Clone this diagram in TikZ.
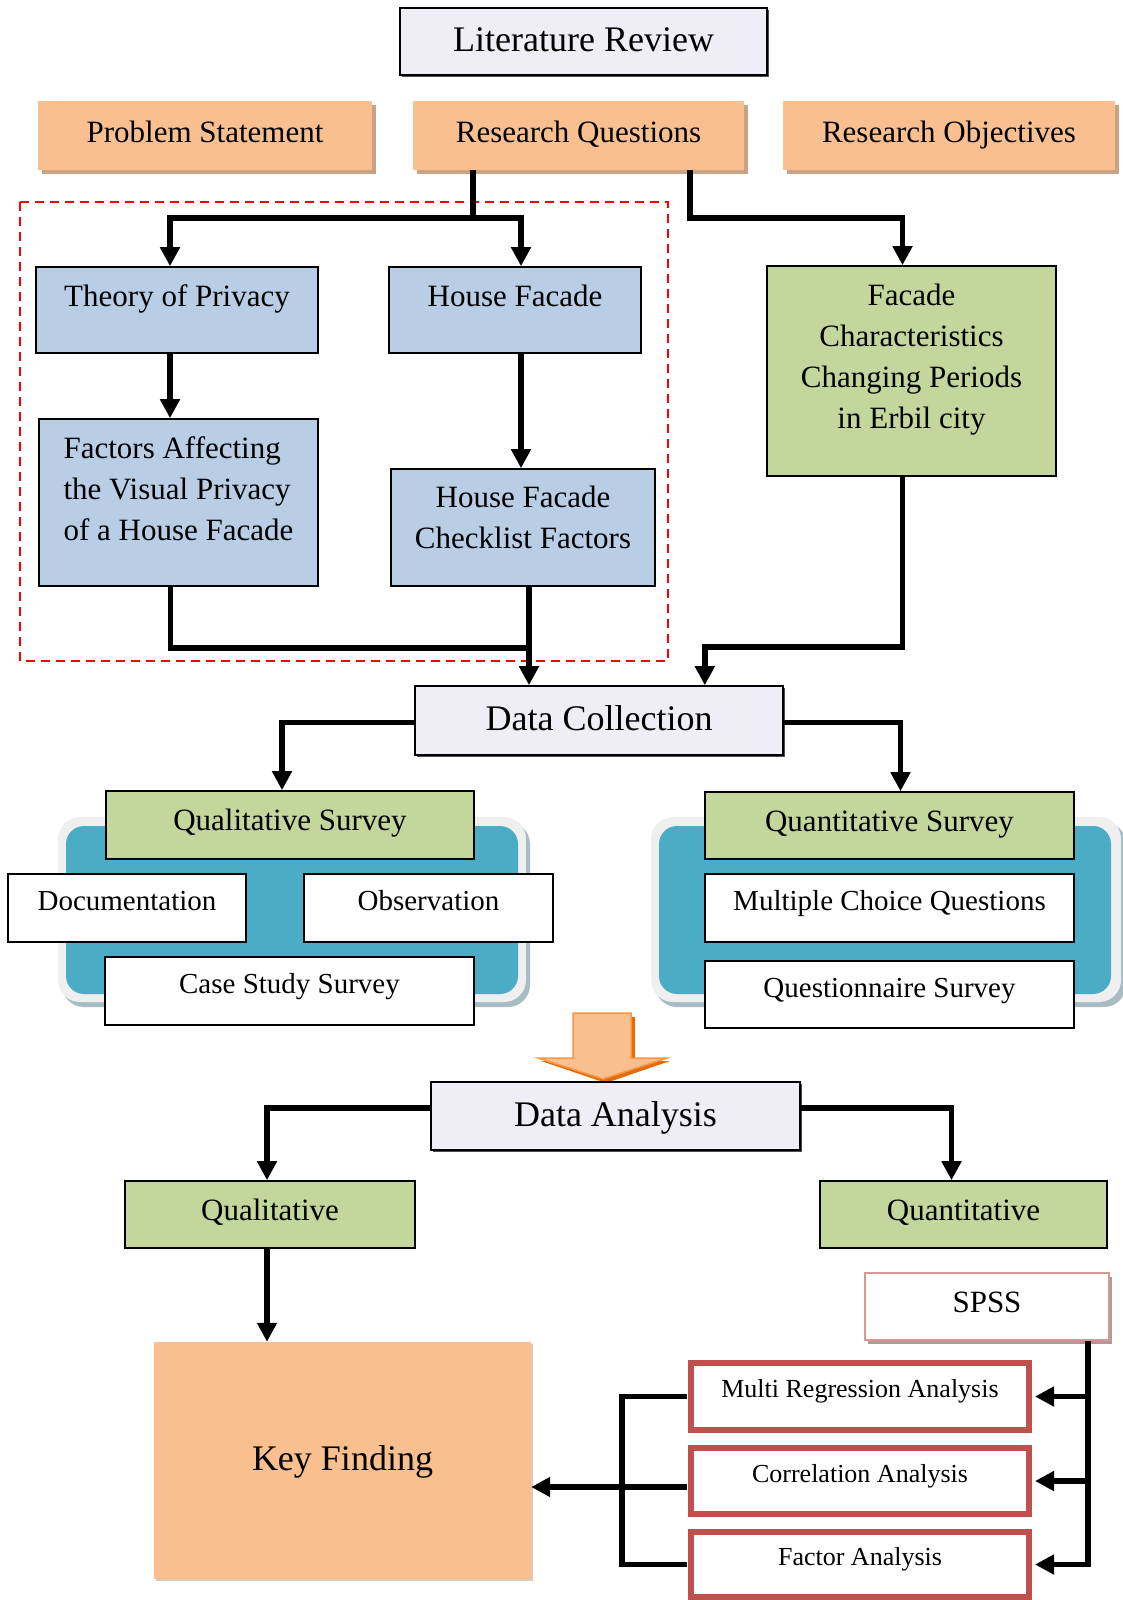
\documentclass[tikz,border=0pt]{standalone}
\usepackage{fontspec}
\setmainfont{Liberation Serif}
\usetikzlibrary{arrows.meta,shadows}
\definecolor{peach}{HTML}{F9BF8F}
\definecolor{peachsh}{HTML}{C9A385}
\definecolor{lav}{HTML}{EFEDF5}
\definecolor{lblue}{HTML}{B9CDE5}
\definecolor{lgreen}{HTML}{C3D69B}
\definecolor{teal}{HTML}{4BACC6}
\definecolor{rim}{HTML}{EFEFEF}
\definecolor{rimsh}{HTML}{A9BCC2}
\definecolor{redb}{HTML}{C0504D}
\definecolor{spssb}{HTML}{D99694}
\definecolor{spsssh}{HTML}{B59898}
\definecolor{orbord}{HTML}{F79646}
\definecolor{orsh}{HTML}{E46C0A}
\begin{document}
\begin{tikzpicture}[x=1pt,y=-1pt,
  base/.style={inner sep=0pt, font=\fontsize{31}{41}\selectfont, text height=22pt, text depth=11pt},
  box/.style={base, draw=black, line width=1.6pt},
  lavbox/.style={box, fill=lav, font=\fontsize{36}{44}\selectfont, text height=26pt, text depth=6pt,
     drop shadow={shadow xshift=2pt, shadow yshift=-2pt, fill=black!70, opacity=1}},
  peachbox/.style={base, fill=peach, minimum height=69pt, text height=22pt, text depth=8pt,
     drop shadow={shadow xshift=4pt, shadow yshift=-4pt, fill=peachsh, opacity=1}},
  bluebox/.style={box, fill=lblue},
  greenbox/.style={box, fill=lgreen},
  whitebox/.style={box, fill=white, font=\fontsize{29}{38}\selectfont, text height=20pt, text depth=15pt, minimum height=68pt},
  redbox/.style={base, draw=redb, line width=6pt, fill=white, font=\fontsize{26}{32}\selectfont, text height=18pt, text depth=16pt, minimum width=338pt},
  line/.style={line width=5.5pt},
  conn/.style={line width=5.5pt, -{Triangle[length=19pt,width=19pt]}}
]
\useasboundingbox (0,0) rectangle (1123,1600);

% top row
\node[lavbox, minimum width=367pt, minimum height=67pt] (lr) at (583.5,41.5) {Literature Review};
\node[peachbox, minimum width=334pt] (ps) at (205,135.5) {Problem Statement};
\node[peachbox, minimum width=331pt] (rq) at (578.5,135.5) {Research Questions};
\node[peachbox, minimum width=332pt] (ro) at (949,135.5) {Research Objectives};

% dashed frame
\draw[red, line width=2.2pt, dash pattern=on 9pt off 6pt] (20,202) rectangle (668,661);

% blue and green boxes
\node[bluebox, minimum width=282pt, minimum height=86pt, text depth=30pt] (tp) at (177,310) {Theory of Privacy};
\node[bluebox, minimum width=252pt, minimum height=86pt, text depth=30pt] (hf) at (515,310) {House Facade};
\node[bluebox, minimum width=279pt, minimum height=167pt, text height=, text depth=] (fa) at (178.5,502.5)
  {\raisebox{5pt}[0pt][0pt]{\begin{tabular}{@{}l@{}}Factors Affecting\\the Visual Privacy\\of a House Facade\end{tabular}}};
\node[bluebox, minimum width=264pt, minimum height=117pt, text height=, text depth=] (hc) at (523,527.5)
  {\raisebox{1pt}[0pt][0pt]{\begin{tabular}{@{}c@{}}House Facade\\Checklist Factors\end{tabular}}};
\node[greenbox, minimum width=289pt, minimum height=210pt, text height=, text depth=] (fc) at (911.5,371)
  {\raisebox{6pt}[0pt][0pt]{\begin{tabular}{@{}c@{}}Facade\\Characteristics\\Changing Periods\\in Erbil city\end{tabular}}};

% connectors of the upper part
\draw[conn] ([xshift=60pt]rq.south west) -- ++(0,48) -| ([xshift=-7pt]tp.north);
\draw[conn] ([xshift=60pt]rq.south west) ++(0,48) -| ([xshift=6pt]hf.north);
\draw[conn] ([xshift=-54pt]rq.south east) -- ++(0,48) -| ([xshift=-9pt]fc.north);
\draw[conn] ([xshift=-7pt]tp.south) -- ([xshift=-7pt]tp.south |- fa.north);
\draw[conn] ([xshift=6pt]hf.south) -- ([xshift=6pt]hf.south |- hc.north);

% data collection
\node[lavbox, minimum width=368pt, minimum height=69pt] (dc) at (599,720.5) {Data Collection};
\draw[line] ([xshift=-8pt]fa.south) |- ([xshift=6pt,yshift=-61pt]hc.south);
\draw[conn] ([xshift=6pt]hc.south) -- ([xshift=6pt]hc.south |- dc.north);
\draw[conn] ([xshift=-9pt]fc.south) -- ++(0,170) -| ([xshift=-79pt]dc.north east);

% survey backgrounds
\fill[rimsh, rounded corners=22pt] (62,822) rectangle (530,1007);
\fill[rim, rounded corners=22pt] (58,817) rectangle (526,1002);
\fill[teal, rounded corners=18pt] (66,826) rectangle (518,994);
\fill[rimsh, rounded corners=22pt] (655,822) rectangle (1126,1007);
\fill[rim, rounded corners=22pt] (651,817) rectangle (1121,1002);
\fill[teal, rounded corners=18pt] (659,826) rectangle (1111,994);

\node[greenbox, minimum width=368pt, minimum height=68pt] (qs) at (290,825) {Qualitative Survey};
\node[whitebox, minimum width=238pt] (doc) at (127,908) {Documentation};
\node[whitebox, minimum width=249pt] (obs) at (428.5,908) {Observation};
\node[whitebox, minimum width=369pt] (css) at (289.5,991) {Case Study Survey};
\node[greenbox, minimum width=369pt, minimum height=67pt] (qn) at (889.5,825.5) {Quantitative Survey};
\node[whitebox, minimum width=369pt] (mcq) at (889.5,908) {Multiple Choice Questions};
\node[whitebox, minimum width=369pt, minimum height=67pt] (qq) at (889.5,994.5) {Questionnaire Survey};

\draw[conn] ([yshift=-2pt]dc.west) -| ([xshift=-8pt]qs.north);
\draw[conn] ([yshift=-2pt]dc.east) -| ([xshift=11pt]qn.north);

% orange block arrow
\fill[orsh] (577,1017) -- (635,1017) -- (635,1061) -- (670,1061) -- (606,1083) -- (541,1061) -- (577,1061) -- cycle;
\filldraw[fill=peach, draw=orbord, line width=1.5pt, line join=miter] (573,1013) -- (631,1013) -- (631,1058) -- (667,1058) -- (603,1079) -- (538,1058) -- (573,1058) -- cycle;

% data analysis
\node[lavbox, minimum width=369pt, minimum height=68pt] (da) at (615.5,1116) {Data Analysis};
\node[greenbox, minimum width=290pt, minimum height=67pt] (ql) at (270,1214.5) {Qualitative};
\node[greenbox, minimum width=287pt, minimum height=67pt] (qt) at (963.5,1214.5) {Quantitative};
\draw[conn] ([yshift=8pt]da.west) -| ([xshift=-3pt]ql.north);
\draw[conn] ([yshift=8pt]da.east) -| ([xshift=-12pt]qt.north);

% key finding
\node[base, fill=peach, minimum width=377pt, minimum height=237pt, font=\fontsize{36}{44}\selectfont, text height=26pt, text depth=6pt,
  drop shadow={shadow xshift=2pt, shadow yshift=-2pt, fill=peachsh!60, opacity=1}] (kf) at (342.5,1460.5) {Key Finding};
\draw[conn] ([xshift=-3pt]ql.south) -- ([xshift=-3pt]ql.south |- kf.north);

% SPSS and analyses
\node[base, draw=spssb, line width=2pt, fill=white, minimum width=244pt, minimum height=67pt,
  drop shadow={shadow xshift=3pt, shadow yshift=-4pt, fill=spsssh, opacity=1}] (spss) at (987,1306.5) {SPSS};
\node[redbox, minimum height=67pt] (mr) at (860,1396.5) {Multi Regression Analysis};
\node[redbox, minimum height=66pt] (ca) at (860,1481) {Correlation Analysis};
\node[redbox, minimum height=65pt] (fan) at (860,1564.5) {Factor Analysis};

\draw[line] ([xshift=-22pt]spss.south east) -- ([xshift=-22pt,yshift=-2pt]spss.south east |- fan.east);
\draw[conn] ([xshift=-22pt]spss.south east |- mr.east) -- ([xshift=3pt]mr.east);
\draw[conn] ([xshift=-22pt]spss.south east |- ca.east) -- ([xshift=3pt]ca.east);
\draw[conn] ([xshift=-22pt]spss.south east |- fan.east) -- ([xshift=3pt]fan.east);

\draw[line] ([xshift=-1pt]mr.west) -| ([xshift=-66pt]fan.west) -- ([xshift=-1pt]fan.west);
\draw[line] ([xshift=-1pt,yshift=-6pt]ca.west) -- ([xshift=-66pt,yshift=-6pt]ca.west);
\draw[conn] ([xshift=-66pt,yshift=-6pt]ca.west) -- ([yshift=-6pt]ca.west -| kf.east);
\end{tikzpicture}
\end{document}
